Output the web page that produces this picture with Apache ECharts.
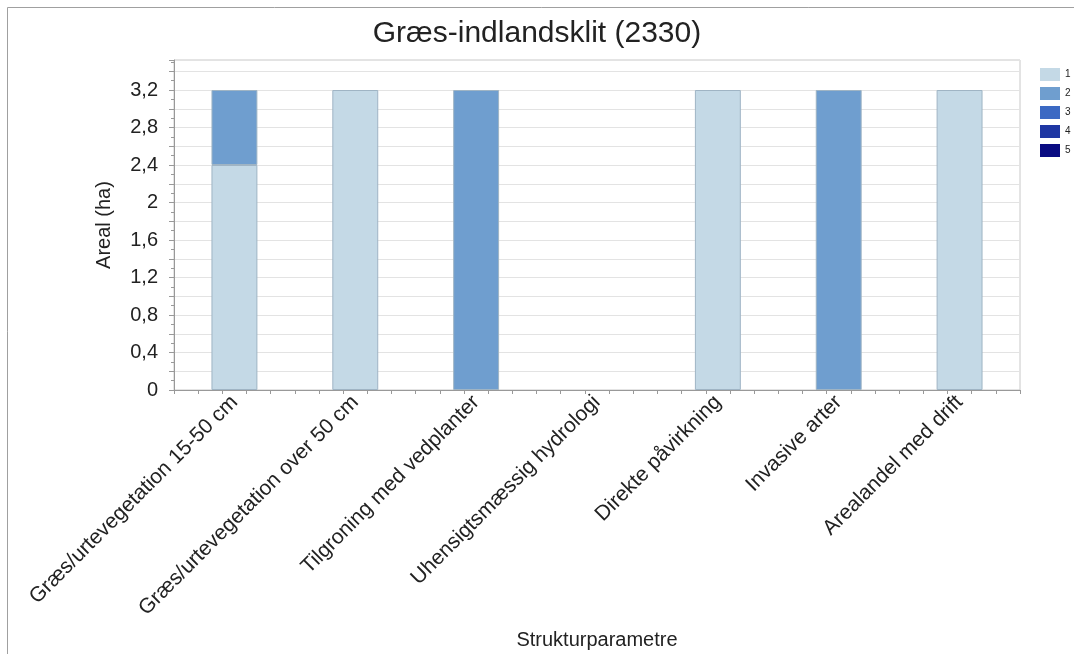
<!DOCTYPE html>
<html>
<head>
<meta charset="utf-8">
<script src="https://cdn.jsdelivr.net/npm/echarts@6/dist/echarts.min.js"></script>
<style>
  html, body { margin: 0; padding: 0; background: #fff; }
  #chart { width: 1074px; height: 654px; }
</style>
</head>
<body>
<div id="chart"></div>
<script>
  // data
  var categories = [
    'Græs/urtevegetation 15-50 cm',
    'Græs/urtevegetation over 50 cm',
    'Tilgroning med vedplanter',
    'Uhensigtsmæssig hydrologi',
    'Direkte påvirkning',
    'Invasive arter',
    'Arealandel med drift'
  ];
  var seriesNames = ['1', '2', '3', '4', '5'];
  var s1 = [2.4, 3.2, 0, 0, 3.2, 0, 3.2];
  var s2 = [0.8, 0, 3.2, 0, 0, 3.2, 0];
  var s3 = [0, 0, 0, 0, 0, 0, 0];
  var s4 = [0, 0, 0, 0, 0, 0, 0];
  var s5 = [0, 0, 0, 0, 0, 0, 0];
  var colors = ['#c4d9e6', '#6f9ecf', '#3b69c3', '#1f37a3', '#0a0c82'];

  var chart = echarts.init(document.getElementById('chart'));
  var font = '"Liberation Sans", Arial, sans-serif';
  var allData = [s1, s2, s3, s4, s5];

  var series = seriesNames.map(function (n, i) {
    return {
      name: n,
      type: 'bar',
      stack: 'total',
      barWidth: '38%',
      xAxisIndex: 0,
      data: allData[i].map(function (v) { return v === 0 ? null : v; }),
      itemStyle: { color: colors[i], borderColor: '#9fb4c4', borderWidth: 1 }
    };
  });

  var option = {
    backgroundColor: '#fff',
    animation: false,
    color: colors,
    title: {
      text: 'Græs-indlandsklit (2330)',
      left: 'center',
      top: 14,
      textStyle: { fontFamily: font, fontSize: 30, fontWeight: 'normal', color: '#222' }
    },
    legend: {
      orient: 'vertical',
      left: 1035,
      top: 63,
      itemWidth: 20,
      itemHeight: 13,
      itemGap: 6,
      icon: 'rect',
      itemStyle: { borderWidth: 0 },
      textStyle: { fontFamily: font, fontSize: 10, color: '#222' },
      data: seriesNames
    },
    grid: {
      left: 174, right: 54, top: 60, bottom: 264,
      outerBoundsMode: 'none', containLabel: false,
      show: true, borderColor: '#c8c8c8', borderWidth: 1
    },
    xAxis: [{
      type: 'category',
      data: categories,
      name: 'Strukturparametre',
      nameLocation: 'middle',
      nameGap: 240,
      nameTextStyle: { fontFamily: font, fontSize: 20, color: '#222' },
      axisLine: { lineStyle: { color: '#999' } },
      axisTick: { alignWithLabel: true, length: 8, lineStyle: { color: '#999' } },
      axisLabel: { rotate: 45, fontFamily: font, fontSize: 21, color: '#222', margin: 9 },
      splitLine: { show: false }
    }, {
      type: 'value',
      position: 'bottom',
      min: 0,
      max: 7,
      interval: 0.2,
      axisLine: { show: false },
      axisTick: { show: true, length: 4, lineStyle: { color: '#999' } },
      axisLabel: { show: false },
      splitLine: { show: false }
    }],
    yAxis: {
      type: 'value',
      min: 0,
      max: 3.52,
      interval: 0.2,
      name: 'Areal (ha)',
      nameLocation: 'middle',
      nameGap: 60,
      nameTextStyle: { fontFamily: font, fontSize: 20, color: '#222' },
      axisLine: { show: true, lineStyle: { color: '#999' } },
      axisTick: { show: true, length: 5, lineStyle: { color: '#999' } },
      minorTick: { show: true, splitNumber: 2, length: 3, lineStyle: { color: '#999' } },
      splitLine: { lineStyle: { color: '#e3e3e3' } },
      axisLabel: {
        fontFamily: font, fontSize: 20, color: '#222', margin: 16,
        formatter: function (v) {
          var k = Math.round(v * 10);
          if (k % 4 !== 0 || v > 3.5) return '';
          return String(Math.round(v * 10) / 10).replace('.', ',');
        }
      }
    },
    graphic: [{
      type: 'rect',
      shape: { x: 7.5, y: 7.5, width: 1090, height: 680 },
      style: { fill: null, stroke: '#a0a0a0', lineWidth: 1 },
      silent: true
    }],
    series: series
  };

  chart.setOption(option);
</script>
</body>
</html>
